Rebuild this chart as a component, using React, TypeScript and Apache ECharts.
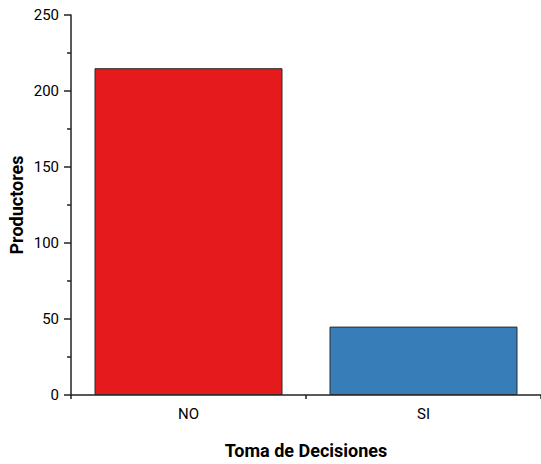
import React, { useEffect, useRef } from "react";
import * as echarts from "echarts";

const categories = ["NO", "SI"];
const productores = [215, 45];
const barColors = ["#E41A1C", "#377EB8"];
const yTicks = { min: 0, max: 250, interval: 50 };

const FONT = "Roboto, 'DejaVu Sans Condensed', sans-serif";

export default function App() {
  const ref = useRef<HTMLDivElement>(null);
  useEffect(() => {
    const chart = echarts.init(ref.current!, null, { renderer: "svg" });
    chart.setOption({
      animation: false,
      backgroundColor: "#ffffff",
      grid: {
        left: 71,
        right: 0,
        top: 15,
        bottom: 69,
        containLabel: false,
        outerBoundsMode: "none",
      },
      xAxis: [
        {
          type: "category",
          position: "bottom",
          data: categories,
          name: "Toma de Decisiones",
          nameLocation: "middle",
          nameGap: 46,
          nameTextStyle: { fontFamily: FONT, fontWeight: "bold", fontSize: 18, color: "#000" },
          axisLine: { lineStyle: { color: "#222", width: 1.5 } },
          axisTick: { alignWithLabel: true, length: 7, lineStyle: { color: "#222", width: 1.5 } },
          axisLabel: { fontFamily: FONT, fontSize: 15, color: "#000", margin: 11 },
        },
        {
          type: "category",
          position: "bottom",
          data: categories,
          axisLine: { show: false },
          axisTick: { show: true, length: 4, lineStyle: { color: "#222", width: 1.5 } },
          axisLabel: { show: false },
        },
      ],
      yAxis: {
        type: "value",
        min: yTicks.min,
        max: yTicks.max,
        interval: yTicks.interval,
        name: "Productores",
        nameLocation: "middle",
        nameGap: 46,
        nameMoveOverlap: false,
        nameTextStyle: { fontFamily: FONT, fontWeight: "bold", fontSize: 18, color: "#000" },
        axisLine: { show: true, lineStyle: { color: "#222", width: 1.5 } },
        axisTick: { show: true, length: 7, lineStyle: { color: "#222", width: 1.5 } },
        minorTick: { show: true, splitNumber: 2, length: 4, lineStyle: { color: "#222", width: 1.5 } },
        splitLine: { show: false },
        axisLabel: { fontFamily: FONT, fontSize: 15, color: "#000", margin: 12 },
      },
      series: [
        {
          type: "bar",
          xAxisIndex: 0,
          barWidth: "80%",
          data: productores.map((v, i) => ({
            value: v,
            itemStyle: { color: barColors[i], borderColor: "#2a2a2a", borderWidth: 1 },
          })),
        },
      ],
    });
    return () => chart.dispose();
  }, []);
  return (
    <div
      ref={ref}
      style={{ position: "fixed", left: 0, top: 0, width: 541, height: 464 }}
    />
  );
}
